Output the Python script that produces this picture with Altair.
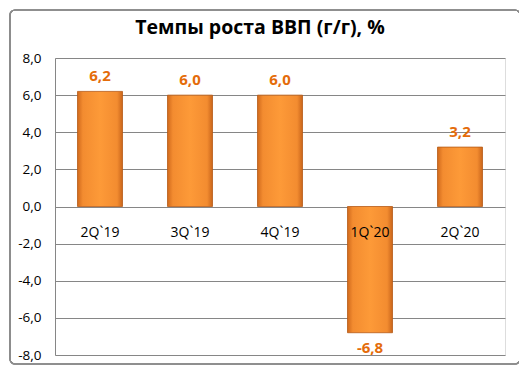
import altair as alt
import pandas as pd

title_text = "Темпы роста ВВП (г/г), %"
quarters = ["2Q`19", "3Q`19", "4Q`19", "1Q`20", "2Q`20"]
growth = [6.2, 6.0, 6.0, -6.8, 3.2]
labels = ["6,2", "6,0", "6,0", "-6,8", "3,2"]
y_ticks = [-8, -6, -4, -2, 0, 2, 4, 6, 8]

df = pd.DataFrame({"q": quarters, "v": growth, "lab": labels})

FONT = "Open Sans"
W, H = 450, 297

x_enc = alt.X("q:N", sort=quarters, axis=None,
              scale=alt.Scale(paddingInner=0.5, paddingOuter=0.25))
y_scale = alt.Scale(domain=[-8, 8], nice=False, zero=False)
y_axis = alt.Axis(values=y_ticks, tickCount=9, title=None,
                  labelExpr="replace(replace(format(datum.value, '.1f'), '.', ','), '\u2212', '-')",
                  labelFont=FONT, labelFontSize=13.5, labelColor="#000000",
                  labelPadding=14, labelOverlap=False, ticks=False, domain=True,
                  domainColor="#868686", grid=True, gridColor="#868686",
                  gridWidth=1)

base = alt.Chart(df)

border = base.mark_rect(
    fill=None, stroke="#8c8c8c", strokeWidth=1.2, cornerRadius=5, clip=False
).encode(
    x=alt.value(-45), x2=alt.value(W + 15),
    y=alt.value(-48), y2=alt.value(H + 9)
)

title = alt.Chart(pd.DataFrame({"t": [title_text]})).mark_text(
    font=FONT, fontSize=19.5, fontWeight="bold", color="#000000",
    baseline="middle", align="center", clip=False
).encode(x=alt.value(W / 2 - 20), y=alt.value(-30), text="t:N")

grad = alt.Gradient(
    gradient="linear", x1=0, x2=1, y1=0, y2=0,
    stops=[
        alt.GradientStop(offset=0, color="#d0691c"),
        alt.GradientStop(offset=0.12, color="#f38c30"),
        alt.GradientStop(offset=0.5, color="#fd9a38"),
        alt.GradientStop(offset=0.88, color="#f38c30"),
        alt.GradientStop(offset=1, color="#c9651b"),
    ],
)

bars = base.mark_bar(fill=grad, stroke="#b65a17", strokeWidth=0.8).encode(
    x=x_enc,
    y=alt.Y("v:Q", scale=y_scale, axis=y_axis),
    y2=alt.datum(0),
)

pos_labels = base.transform_filter("datum.v >= 0").mark_text(
    font=FONT, fontSize=15, fontWeight="bold", color="#e46c0a",
    baseline="middle", dy=-15
).encode(x=x_enc, y=alt.Y("v:Q", scale=y_scale, axis=y_axis), text="lab:N")

neg_labels = base.transform_filter("datum.v < 0").mark_text(
    font=FONT, fontSize=15, fontWeight="bold", color="#e46c0a",
    baseline="middle", dy=15
).encode(x=x_enc, y=alt.Y("v:Q", scale=y_scale, axis=y_axis), text="lab:N")

cat_labels = base.mark_text(
    font=FONT, fontSize=14, color="#000000", baseline="middle", dy=26
).encode(x=x_enc, y=alt.datum(0, scale=y_scale, axis=y_axis), text="q:N")

chart = alt.layer(border, bars, pos_labels, neg_labels, cat_labels, title).properties(
    width=W, height=H,
    autosize=alt.AutoSizeParams(type="none"),
    padding={"left": 47, "top": 50, "right": 14, "bottom": 11},
).configure_view(stroke=None).configure(background="white")

chart.save("out.html", embed_options={"renderer": "svg", "actions": False})
